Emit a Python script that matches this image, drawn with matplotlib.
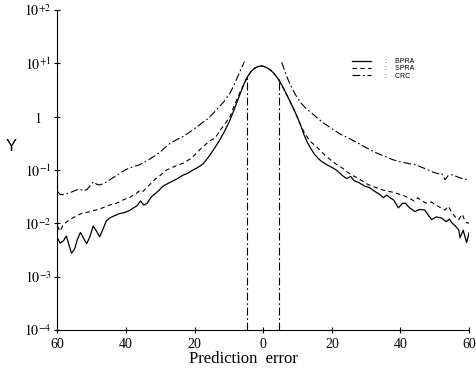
import numpy as np
import matplotlib.pyplot as plt

plt.rcParams['font.family'] = ['Liberation Serif', 'DejaVu Serif']
plt.rcParams['mathtext.fontset'] = 'stix'

# --- data (y as log10 values) ---
bpra_x = [-60.0, -59.2, -58.3, -57.4, -56.6, -55.9, -55.0, -54.2, -53.3, -52.4,
          -51.5, -50.6, -49.6, -48.7, -47.7, -46.8, -45.8, -44.8, -43.5, -42.0,
          -40.5, -39.0, -37.8, -36.8, -35.8, -34.8, -33.8, -32.6, -31.6, -30.4,
          -29.2, -28.0, -26.5, -25.0, -23.5, -22.0, -20.5, -19.0, -17.5, -16.0,
          -14.5, -13.0, -11.5, -10.0, -8.7, -7.5, -6.5, -5.5, -4.5, -3.5,
          -2.5, -1.5, -0.7, 0.0, 1.0, 2.0, 3.0, 4.0, 5.0, 6.0,
          7.0, 8.0, 9.0, 10.0, 11.0, 12.0, 13.0, 14.0, 15.0, 16.0,
          17.0, 18.5, 20.0, 21.5, 23.0, 24.3, 25.5, 26.5, 28.0, 29.5,
          31.0, 32.5, 34.0, 35.0, 36.0, 37.0, 38.0, 39.4, 40.5, 41.4,
          42.5, 44.2, 45.5, 47.1, 48.3, 49.1, 50.5, 52.0, 53.3, 54.3,
          55.0, 56.0, 57.0, 57.4, 58.3, 59.3, 60.0]
bpra_log = [-2.28, -2.37, -2.33, -2.24, -2.42, -2.56, -2.48, -2.30, -2.17, -2.28,
            -2.38, -2.26, -2.05, -2.14, -2.25, -2.12, -1.96, -1.90, -1.86, -1.82,
            -1.80, -1.76, -1.71, -1.67, -1.58, -1.66, -1.62, -1.50, -1.45, -1.38,
            -1.30, -1.26, -1.21, -1.16, -1.10, -1.06, -1.00, -0.95, -0.88, -0.76,
            -0.62, -0.47, -0.30, -0.11, 0.10, 0.30, 0.47, 0.63, 0.76, 0.85,
            0.91, 0.94, 0.95, 0.945, 0.92, 0.88, 0.82, 0.74, 0.64, 0.52,
            0.39, 0.26, 0.13, -0.02, -0.18, -0.36, -0.50, -0.61, -0.71, -0.78,
            -0.84, -0.90, -0.95, -1.01, -1.10, -1.16, -1.12, -1.20, -1.24, -1.30,
            -1.33, -1.40, -1.46, -1.52, -1.47, -1.52, -1.56, -1.71, -1.63, -1.62,
            -1.70, -1.78, -1.74, -1.75, -1.86, -1.93, -1.88, -1.90, -1.97, -1.92,
            -1.99, -2.05, -2.12, -2.27, -2.13, -2.36, -2.18]

spra_x = [-60.0, -59.3, -58.5, -57.5, -56.4, -55.0, -53.5, -52.4, -51.0, -49.5,
          -48.0, -46.5, -45.0, -43.5, -42.0, -40.5, -39.0, -38.0, -37.0, -36.0,
          -35.0, -34.0, -33.0, -31.5, -30.0, -28.2, -26.5, -25.0, -23.3, -21.5,
          -20.0, -18.5, -17.0, -15.5, -14.0, -12.5, -11.0, -9.7, -8.5, -7.5,
          -6.5, -5.5, -4.5, -3.5, -2.5, -1.5, -0.7, 0.0, 1.0, 2.0,
          3.0, 4.0, 5.0, 6.0, 7.0, 8.0, 9.0, 10.0, 11.0, 12.0,
          13.0, 14.0, 15.5, 17.0, 18.5, 20.0, 21.5, 23.0, 24.5, 26.0,
          27.5, 29.0, 30.5, 32.0, 33.5, 35.0, 36.5, 38.0, 39.5, 41.0,
          42.5, 44.0, 45.0, 46.0, 47.5, 49.0, 50.5, 52.0, 53.0, 54.0,
          55.0, 56.0, 57.0, 58.0, 59.0, 60.0]
spra_log = [-2.05, -2.15, -2.05, -1.98, -1.93, -1.88, -1.83, -1.80, -1.79, -1.76,
            -1.74, -1.70, -1.66, -1.64, -1.60, -1.55, -1.52, -1.47, -1.44, -1.38,
            -1.40, -1.33, -1.27, -1.17, -1.10, -1.00, -0.95, -0.91, -0.87, -0.80,
            -0.72, -0.62, -0.53, -0.45, -0.40, -0.25, -0.12, 0.0, 0.20, 0.35,
            0.50, 0.63, 0.76, 0.85, 0.91, 0.94, 0.95, 0.945, 0.92, 0.88,
            0.82, 0.74, 0.64, 0.52, 0.39, 0.26, 0.12, -0.02, -0.17, -0.30,
            -0.40, -0.48, -0.56, -0.66, -0.75, -0.83, -0.90, -0.96, -1.04, -1.10,
            -1.15, -1.21, -1.27, -1.31, -1.34, -1.38, -1.40, -1.42, -1.45, -1.48,
            -1.53, -1.58, -1.52, -1.57, -1.62, -1.60, -1.66, -1.72, -1.75, -1.68,
            -1.80, -1.88, -1.93, -1.83, -1.98, -2.00]

crc_left_x = [-60.0, -59.2, -58.0, -57.0, -55.4, -54.3, -53.4, -52.5, -51.5, -50.5,
              -49.5, -48.5, -47.6, -46.2, -44.7, -43.2, -41.8, -40.3, -38.9, -37.5,
              -36.0, -34.5, -33.0, -31.5, -30.0, -28.5, -27.2, -25.2, -23.3, -21.0,
              -18.5, -16.0, -13.6, -11.5, -9.7, -8.3, -7.3, -6.3, -5.5]
crc_left_log = [-1.40, -1.46, -1.46, -1.44, -1.40, -1.37, -1.36, -1.39, -1.37, -1.30,
                -1.22, -1.27, -1.28, -1.24, -1.18, -1.12, -1.06, -1.00, -0.96, -0.93,
                -0.90, -0.85, -0.79, -0.73, -0.66, -0.57, -0.50, -0.43, -0.37, -0.27,
                -0.15, -0.03, 0.13, 0.28, 0.44, 0.62, 0.77, 0.92, 1.03]
crc_right_x = [5.4, 6.3, 7.2, 8.2, 9.5, 11.1, 12.5, 14.1, 15.5, 17.0,
               18.5, 19.9, 21.3, 22.8, 24.2, 25.7, 27.2, 28.6, 30.0, 31.5,
               33.0, 34.5, 36.0, 37.5, 39.4, 41.0, 42.5, 44.2, 45.5, 47.0,
               48.5, 49.5, 51.0, 52.0, 53.0, 54.0, 55.0, 56.3, 57.5, 58.8, 60.0]
crc_right_log = [1.02, 0.85, 0.70, 0.56, 0.40, 0.25, 0.15, 0.07, -0.01, -0.09,
                 -0.16, -0.22, -0.28, -0.34, -0.38, -0.43, -0.48, -0.53, -0.58, -0.63,
                 -0.68, -0.72, -0.76, -0.80, -0.84, -0.86, -0.88, -0.90, -0.93, -0.97,
                 -1.01, -1.04, -1.07, -1.06, -1.18, -1.10, -1.09, -1.12, -1.15, -1.18, -1.16]
# CRC cut-off lines
crc_cut_x = [-4.8, 4.7]
crc_cut_top = [5.6, 5.0]

y_ticks = [1e-4, 1e-3, 1e-2, 1e-1, 1, 1e1, 1e2]
y_tick_labels = ['$10^{-4}$', '$10^{-3}$', '$10^{-2}$', '$10^{-1}$', '$1$',
                 '$10^{+1}$', '$10^{+2}$']
x_ticks = [-60, -40, -20, 0, 20, 40, 60]
x_tick_labels = ['60', '40', '20', '0', '20', '40', '60']

W, H = 477, 377
fig = plt.figure(figsize=(W / 100, H / 100), dpi=100)
ax = fig.add_axes([57.5 / W, 1 - 330 / H, (469 - 57.5) / W, 320 / H])

lw = 0.8
dashdot = (7, 2.5, 1.5, 2.5)
ax.plot(bpra_x, 10 ** np.array(bpra_log), color='black', lw=0.9, label=':    BPRA')
ax.plot(spra_x, 10 ** np.array(spra_log), color='black', lw=lw,
        dashes=(4, 3), label=':    SPRA')
ax.plot(crc_left_x, 10 ** np.array(crc_left_log), color='black', lw=lw,
        dashes=dashdot, label=':    CRC')
ax.plot(crc_right_x, 10 ** np.array(crc_right_log), color='black', lw=lw,
        dashes=dashdot)
for cx, ct in zip(crc_cut_x, crc_cut_top):
    ax.plot([cx, cx], [1e-4, ct], color='black', lw=lw, dashes=dashdot)

ax.set_yscale('log')
ax.set_xlim(-60, 60)
ax.set_ylim(1e-4, 1e2)
ax.set_yticks(y_ticks)
ax.set_yticklabels(y_tick_labels)
ax.set_xticks(x_ticks)
ax.set_xticklabels(x_tick_labels)
ax.minorticks_off()

for s in ['top', 'right']:
    ax.spines[s].set_visible(False)
for s in ['left', 'bottom']:
    ax.spines[s].set_linewidth(0.8)

ax.tick_params(axis='both', direction='inout', length=4, width=0.8, labelsize=10)
ax.tick_params(axis='y', pad=12)
for t in ax.get_yticklabels():
    t.set_horizontalalignment('center')

ax.set_ylabel('Y', rotation=0, family='Liberation Sans', fontsize=12, va='center')
ax.yaxis.set_label_coords(-0.112, 0.572)

fig.text(243.5 / W, 1 - 363 / H, 'Prediction  error', ha='center',
         va='baseline', fontsize=12)

fig.legend(loc='upper left', bbox_to_anchor=(352 / W, 1 - 58 / H), frameon=False,
           handlelength=2.8, handletextpad=1.9, labelspacing=0.05,
           borderpad=0, borderaxespad=0, prop={'family': 'Liberation Sans', 'size': 5})

fig.savefig('out.png', dpi=100)
